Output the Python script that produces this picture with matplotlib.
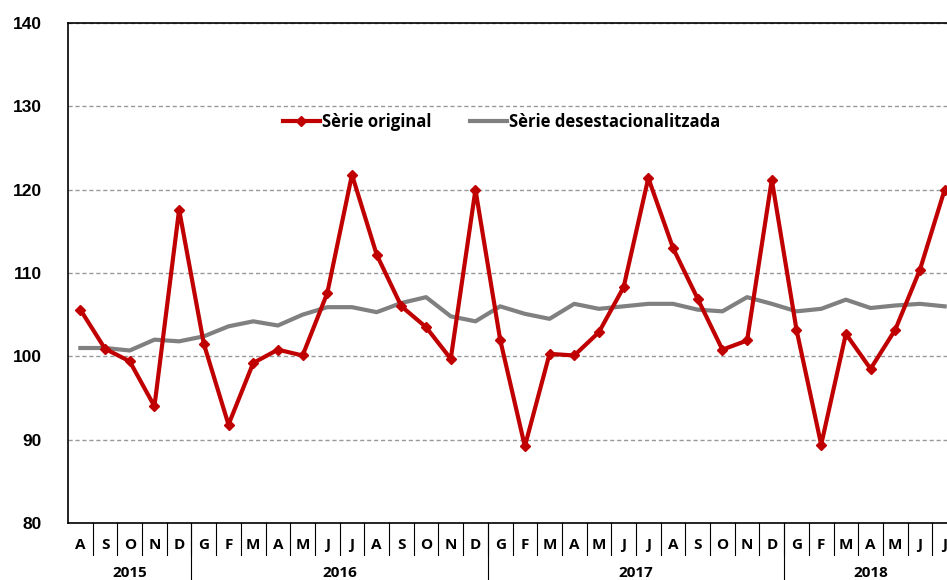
import matplotlib.pyplot as plt
import matplotlib.transforms as mtransforms
import numpy as np

plt.rcParams["font.family"] = "Open Sans"

months = ["A", "S", "O", "N", "D",
          "G", "F", "M", "A", "M", "J", "J", "A", "S", "O", "N", "D",
          "G", "F", "M", "A", "M", "J", "J", "A", "S", "O", "N", "D",
          "G", "F", "M", "A", "M", "J", "J"]
years = ["2015", "2016", "2017", "2018"]
year_counts = [5, 12, 12, 7]

original = [105.6, 100.9, 99.4, 94.0, 117.6,
            101.5, 91.8, 99.2, 100.8, 100.1, 107.6, 121.8, 112.2, 106.0, 103.5, 99.7, 120.0,
            102.0, 89.2, 100.3, 100.1, 102.9, 108.3, 121.4, 113.0, 106.9, 100.8, 101.9, 121.2,
            103.2, 89.4, 102.7, 98.5, 103.2, 110.4, 120.0]
desest = [101.0, 101.0, 100.7, 102.0, 101.8,
          102.4, 103.6, 104.2, 103.7, 105.0, 105.9, 105.9, 105.3, 106.4, 107.1, 104.8, 104.2,
          106.0, 105.1, 104.5, 106.3, 105.7, 106.0, 106.3, 106.3, 105.6, 105.4, 107.1, 106.3,
          105.4, 105.7, 106.8, 105.8, 106.1, 106.3, 106.0]

W, H = 947, 580
fig = plt.figure(figsize=(W / 100, H / 100), dpi=100)
# axes runs past the right edge of the figure (chart is cut off in the original)
ax = fig.add_axes([68 / W, (H - 523) / H, 889 / W, 500 / H])

x = np.arange(len(months))
ax.plot(x, original, "-D", color="#C00000", lw=3, ms=5.5, label="Sèrie original", zorder=3)
ax.plot(x, desest, "-", color="#808080", lw=3, label="Sèrie desestacionalitzada", zorder=2)

ax.set_xlim(-0.5, len(months) - 0.5)
ax.set_ylim(80, 140)
ax.set_yticks(range(80, 141, 10))
ax.set_yticklabels([str(v) for v in range(80, 141, 10)], fontsize=12.5,
                   fontweight="bold", family="Liberation Sans")
ax.tick_params(axis="y", length=0, pad=19)
ax.set_xticks([])
ax.grid(axis="y", linestyle="--", color="#999999", linewidth=1, dashes=(3, 2))
for s in ["left", "top", "bottom"]:
    ax.spines[s].set_linewidth(1.2)
ax.spines["right"].set_visible(False)

# month / year category labels below the axis
trans = mtransforms.blended_transform_factory(ax.transData, ax.transAxes)
for i, m in enumerate(months):
    ax.text(i, -0.044, m, transform=trans, ha="center", va="center",
            fontsize=11, fontweight="bold", clip_on=False)
    ax.plot([i + 0.5, i + 0.5], [0, -0.064], transform=trans, color="black",
            lw=0.8, clip_on=False)
start = 0
for yr, n in zip(years, year_counts):
    ax.text(start + (n - 1) / 2, -0.1, yr, transform=trans, ha="center", va="center",
            fontsize=11, fontweight="bold", clip_on=False)
    if start > 0:
        ax.plot([start - 0.5, start - 0.5], [0, -0.2], transform=trans, color="black",
                lw=0.8, clip_on=False)
    start += n

ax.legend(loc="center left", bbox_to_anchor=(283 / W, 1 - 122 / H),
          bbox_transform=fig.transFigure, ncol=2, frameon=False,
          prop={"weight": "bold", "size": 12}, borderpad=0, borderaxespad=0,
          handlelength=2.2, handletextpad=0.15, columnspacing=2.3)

fig.savefig("out.png", dpi=100)
